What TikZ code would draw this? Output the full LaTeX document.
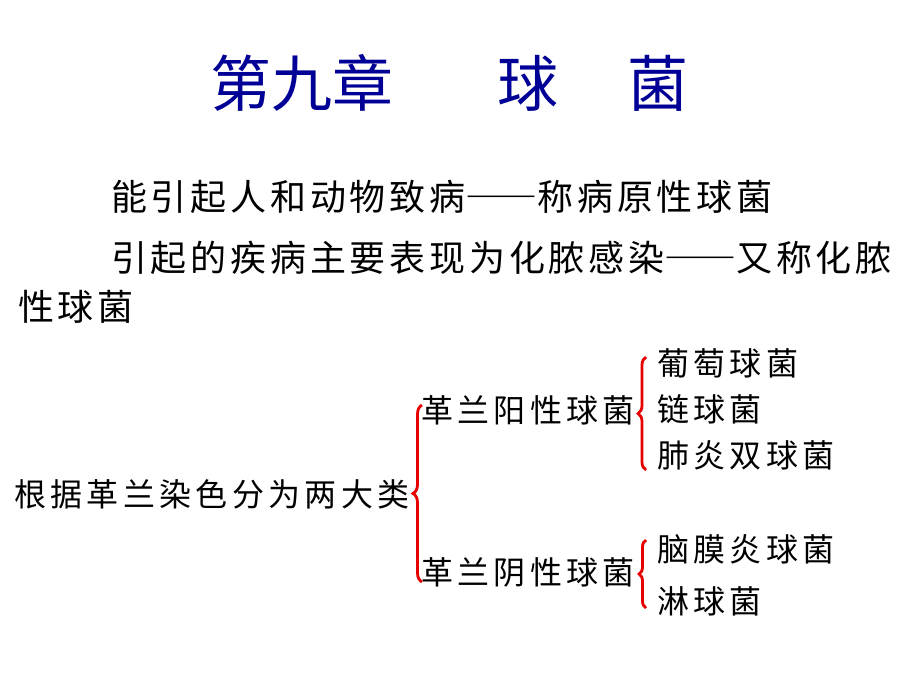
\documentclass[tikz,border=0pt]{standalone}
\usepackage{fontspec}
\usetikzlibrary{decorations.pathreplacing}
\newfontfamily\cjk{Noto Sans CJK SC}
\newfontfamily\cjkbody[LetterSpace=10.5]{Noto Sans CJK SC}
\newfontfamily\cjktree[LetterSpace=13.5]{Noto Sans CJK SC}
\newcommand\fwdash{{\addfontfeature{CharacterWidth=Full}——}}
\definecolor{titleblue}{RGB}{0,0,150}
\definecolor{bracered}{RGB}{230,0,0}
\tikzset{
  titletext/.style={anchor=west,inner sep=0pt,font=\cjk\fontsize{61}{61}\selectfont,text=titleblue},
  bodytext/.style={anchor=west,inner sep=0pt,font=\cjkbody\fontsize{36}{36}\selectfont},
  treetext/.style={anchor=west,inner sep=0pt,font=\cjktree\fontsize{32}{32}\selectfont},
  redbrace/.style={draw=bracered,line width=2.8pt,decorate,decoration={brace,amplitude=9pt}}
}
\begin{document}
\begin{tikzpicture}[x=1pt,y=-1pt]
\useasboundingbox[fill=white] (0,0) rectangle (920,690);
% title
\node[titletext] (t1) at (210,83) {第九章};
\node[titletext] (t2) at (497,83) {球};
\node[titletext] (t3) at (627,83) {菌};
% body
\node[bodytext] (l1) at (111,197) {能引起人和动物致病\fwdash 称病原性球菌};
\node[bodytext] (l2) at (111,258) {引起的疾病主要表现为化脓感染\fwdash 又称化脓};
\node[bodytext] (l3) at (18,307) {性球菌};
% tree
\node[treetext] (root) at (14,494) {根据革兰染色分为两大类};
\node[treetext] (gp) at (421,410) {革兰阳性球菌};
\node[treetext] (gn) at (421,572) {革兰阴性球菌};
\node[treetext] (a1) at (657,363) {葡萄球菌};
\node[treetext] (a2) at (657,409) {链球菌};
\node[treetext] (a3) at (657,455) {肺炎双球菌};
\node[treetext] (b1) at (657,549) {脑膜炎球菌};
\node[treetext] (b2) at (657,601) {淋球菌};
% braces
\coordinate (lb1) at (422,582);
\coordinate (lb2) at (422,405);
\coordinate (ub1) at (646,470);
\coordinate (ub2) at (646,357);
\coordinate (db1) at (646,608);
\coordinate (db2) at (646,540);
\draw[redbrace] (lb1) -- (lb2);
\draw[redbrace,decoration={amplitude=8pt}] (ub1) -- (ub2);
\draw[redbrace,decoration={amplitude=7pt}] (db1) -- (db2);
\end{tikzpicture}
\end{document}
